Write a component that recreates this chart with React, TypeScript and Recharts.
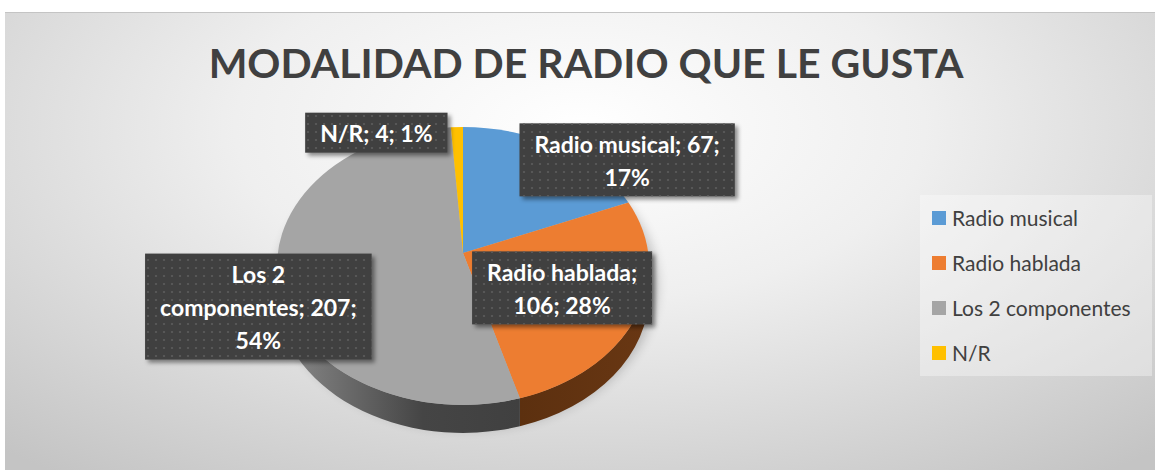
import { PieChart, Pie, Legend } from 'recharts';

const CATEGORIES = ['Radio musical', 'Radio hablada', 'Los 2 componentes', 'N/R'];
const COUNTS = [67, 106, 207, 4];
const TOP_COLORS = ['#5b9bd5', '#ed7d31', '#a5a5a5', '#ffc000'];
const SIDE_COLORS = ['#2f5f8c', 'url(#sideOrange)', 'url(#sideGrey)', '#a07c00'];

// how Excel wrapped and moved the data labels
const LABEL_WRAP = [18, 14, 17, 20];
const LABEL_SHIFT = [[106, -35], [-4, -10], [-95, 25], [-83, -50]];

const data = CATEGORIES.map((name, i) => ({ name, value: COUNTS[i] }));

const FONT = 'Lato, "Open Sans", sans-serif';
const LABEL_SIZE = 23;
const LABEL_FONT = `bold ${LABEL_SIZE}px Lato`;
const TILT = 0.747;
const DEPTH = 28;
const APEX_LIFT = 13;
const RAD = Math.PI / 180;

const ept = (cx: number, cy: number, rx: number, ry: number, a: number) => [
  cx + rx * Math.cos(a * RAD),
  cy - ry * Math.sin(a * RAD),
];

let ctx: CanvasRenderingContext2D | null = null;
const measure = (s: string) => {
  if (!ctx) ctx = document.createElement('canvas').getContext('2d');
  ctx!.font = LABEL_FONT;
  return ctx!.measureText(s).width;
};

const wrap = (text: string, max: number) => {
  const lines: string[] = [];
  let cur = '';
  for (const w of text.split(' ')) {
    const next = cur ? cur + ' ' + w : w;
    if (next.length > max && cur) {
      lines.push(cur);
      cur = w;
    } else cur = next;
  }
  lines.push(cur);
  return lines;
};

// top face + visible rim of each slice, drawn from the sector geometry recharts computed
const renderSlice = (p: any) => {
  const { cx, cy, outerRadius, startAngle, endAngle, index } = p;
  const rx = outerRadius;
  const ry = outerRadius * TILT;
  const s = Math.max(startAngle, endAngle);
  const e = Math.min(startAngle, endAngle);
  const [x1, y1] = ept(cx, cy, rx, ry, s);
  const [x2, y2] = ept(cx, cy, rx, ry, e);
  const large = s - e > 180 ? 1 : 0;
  const top = `M${cx},${cy - APEX_LIFT} L${x1},${y1} A${rx},${ry} 0 ${large} 1 ${x2},${y2} Z`;

  const hi = Math.min(s, 0);
  const lo = Math.max(e, -180);
  let side = null;
  if (hi > lo) {
    const [a1, b1] = ept(cx, cy, rx, ry, hi);
    const [a2, b2] = ept(cx, cy, rx, ry, lo);
    const d = `M${a1},${b1} A${rx},${ry} 0 0 1 ${a2},${b2} L${a2},${b2 + DEPTH} A${rx},${ry} 0 0 0 ${a1},${b1 + DEPTH} Z`;
    side = <path d={d} fill={SIDE_COLORS[index]} />;
  }
  return (
    <g key={`slice-${index}`}>
      {index === 0 && (
        <ellipse cx={cx + 4} cy={cy + DEPTH / 2 + 4} rx={rx + 4} ry={ry + 6} fill="#000" opacity={0.22} filter="url(#pieShadow)" />
      )}
      {side}
      <path d={top} fill={TOP_COLORS[index]} />
    </g>
  );
};

const renderBox = (p: any) => {
  const { cx, cy, outerRadius, midAngle, index, name, value, percent } = p;
  const text = `${name}; ${value}; ${Math.round(percent * 100)}%`;
  const lines = wrap(text, LABEL_WRAP[index]);
  const w = Math.max(...lines.map(measure)) + 30;
  const h = 33 * (lines.length - 1) + 40;
  const [ax, ay] = ept(cx, cy, outerRadius * 0.6, outerRadius * TILT * 0.6, midAngle);
  const bx = ax + LABEL_SHIFT[index][0] - w / 2;
  const by = ay + LABEL_SHIFT[index][1] - h / 2;
  return (
    <g key={`box-${index}`}>
      <rect x={bx} y={by} width={w} height={h} fill="#404040" filter="url(#boxShadow)" />
      <rect x={bx} y={by} width={w} height={h} fill="url(#dots)" />
      {lines.map((l, i) => (
        <text
          key={i}
          x={bx + w / 2}
          y={by + 29.5 + 33 * i}
          textAnchor="middle"
          fill="#ffffff"
          fontFamily={FONT}
          fontWeight={700}
          fontSize={LABEL_SIZE}
        >
          {l}
        </text>
      ))}
    </g>
  );
};

const renderLegend = () => (
  <div style={{ width: 232, height: 181, background: 'rgba(255,255,255,0.35)' }}>
    {CATEGORIES.map((c, i) => (
      <div key={c} style={{ height: 45, display: 'flex', alignItems: 'center' }}>
        <span style={{ width: 14, height: 14, background: TOP_COLORS[i], marginLeft: 12, marginRight: 6 }} />
        <span style={{ fontFamily: FONT, fontSize: 21, color: '#404040' }}>{c}</span>
      </div>
    ))}
  </div>
);

export default function App() {
  return (
    <div style={{ position: 'absolute', left: 0, top: 0, width: 1155, height: 470, background: '#fff' }}>
      <div
        style={{
          position: 'absolute',
          left: 5,
          top: 12,
          width: 1150,
          height: 458,
          borderTop: '1px solid #c4c4c4',
          background: 'radial-gradient(ellipse 75% 95% at 50% 25%, #ffffff 0%, #efefef 40%, #c4c4c4 100%)',
        }}
      />
      <svg width={1155} height={470} style={{ position: 'absolute', left: 0, top: 0 }}>
        <defs>
          <linearGradient id="sideGrey" x1="0" x2="1" y1="0" y2="0">
            <stop offset="0" stopColor="#8c8c8c" />
            <stop offset="0.6" stopColor="#454545" />
            <stop offset="1" stopColor="#404040" />
          </linearGradient>
          <linearGradient id="sideOrange" x1="0" x2="1" y1="0" y2="0">
            <stop offset="0" stopColor="#5c300f" />
            <stop offset="1" stopColor="#693713" />
          </linearGradient>
          <pattern id="dots" width="8" height="8" patternUnits="userSpaceOnUse">
            <circle cx="4" cy="4" r="1.1" fill="#5c5c5c" />
          </pattern>
          <filter id="boxShadow" x="-10%" y="-10%" width="130%" height="140%">
            <feDropShadow dx="3" dy="3" stdDeviation="2" floodColor="#000" floodOpacity="0.45" />
          </filter>
          <filter id="pieShadow" x="-20%" y="-20%" width="140%" height="140%">
            <feGaussianBlur stdDeviation="6" />
          </filter>
        </defs>
        <text x={586} y={78} textAnchor="middle" fontFamily={FONT} fontWeight={700} fontSize={41} fill="#404040">
          MODALIDAD DE RADIO QUE LE GUSTA
        </text>
      </svg>
      <div style={{ position: 'absolute', left: 0, top: 0 }}>
        <PieChart width={1155} height={470} margin={{ top: 0, right: 0, bottom: 0, left: 0 }}>
          <Pie
            data={data}
            dataKey="value"
            nameKey="name"
            cx={463}
            cy={266}
            outerRadius={186}
            startAngle={90}
            endAngle={-270}
            fill="none"
            stroke="none"
            label={renderSlice}
            labelLine={false}
            legendType="none"
            isAnimationActive={false}
          />
          <Pie
            data={data}
            dataKey="value"
            nameKey="name"
            cx={463}
            cy={266}
            outerRadius={186}
            startAngle={90}
            endAngle={-270}
            fill="none"
            stroke="none"
            label={renderBox}
            labelLine={false}
            legendType="none"
            isAnimationActive={false}
          />
          <Legend
            layout="vertical"
            align="right"
            verticalAlign="middle"
            content={renderLegend}
            wrapperStyle={{ left: 920, top: 195, width: 232, height: 181 }}
          />
        </PieChart>
      </div>
    </div>
  );
}
